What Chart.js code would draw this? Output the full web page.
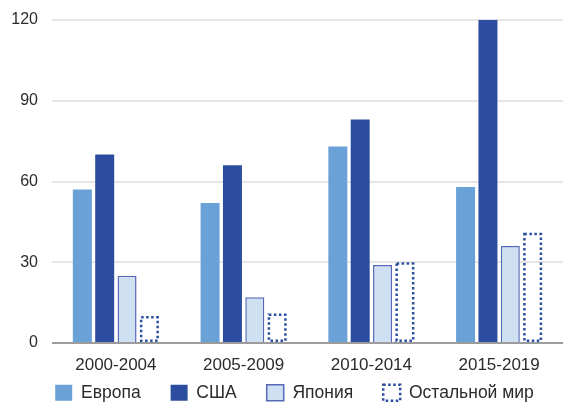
<!DOCTYPE html>
<html>
<head>
<meta charset="utf-8">
<script src="https://cdn.jsdelivr.net/npm/chart.js@4.4.1/dist/chart.umd.min.js"></script>
<style>
  html, body { margin: 0; padding: 0; background: #fff; }
  #wrap { width: 563px; height: 403px; position: relative; }
</style>
</head>
<body>
<div id="wrap"><canvas id="chart"></canvas></div>
<script>
// Periods on the horizontal axis
const periods = ['2000-2004', '2005-2009', '2010-2014', '2015-2019'];

// Values per region
const europe = [57, 52, 73, 58];
const usa = [70, 66, 83, 120];
const japan = [25, 17, 29, 36];
const restOfWorld = [10, 11, 30, 41];

// Series names
const seriesNames = ['Европа', 'США', 'Япония', 'Остальной мир'];

// Value axis ticks
const yTicks = [0, 30, 60, 90, 120];

const FONT = '"Liberation Sans", Arial, Helvetica, sans-serif';
const TEXT_COLOR = '#2b2b2b';
const DOT_COLOR = '#2c4ea0';
const DOT_WIDTH = 2.5;
const DOT_DASH = [2.5, 2.5];
const LEGEND_GAP = 30;
const LEGEND_LIFT = 21;
const LEGEND_SHIFT = 13;

// Dotted outline for the "Остальной мир" bars, drawn around the bar elements
const dottedBars = {
  id: 'dottedBars',
  afterDatasetsDraw(chart) {
    const meta = chart.getDatasetMeta(3);
    if (meta.hidden) return;
    const ctx = chart.ctx;
    ctx.save();
    ctx.strokeStyle = DOT_COLOR;
    ctx.lineWidth = DOT_WIDTH;
    ctx.setLineDash(DOT_DASH);
    meta.data.forEach(el => {
      const p = el.getProps(['x', 'y', 'base', 'width'], true);
      const h = DOT_WIDTH / 2;
      const left = p.x - p.width / 2 + h;
      const right = p.x + p.width / 2 - h;
      const top = Math.min(p.y, p.base) + h;
      const bottom = Math.max(p.y, p.base) - h;
      ctx.strokeRect(left, top, right - left, bottom - top);
    });
    ctx.restore();
  }
};

// Keeps wide gaps between legend entries while placing the row close under the axis labels
const legendPlacement = {
  id: 'legendPlacement',
  afterLayout(chart) {
    const lg = chart.legend;
    if (!lg) return;
    lg.top -= LEGEND_LIFT;
    lg.bottom = chart.height;
    lg.height = lg.bottom - lg.top;
    lg.left += LEGEND_SHIFT;
    lg.right += LEGEND_SHIFT;
  }
};

new Chart(document.getElementById('chart'), {
  type: 'bar',
  data: {
    labels: periods,
    datasets: [
      { label: seriesNames[0], data: europe, backgroundColor: '#6aa1d7', borderWidth: 0 },
      { label: seriesNames[1], data: usa, backgroundColor: '#2c4d9f', borderWidth: 0 },
      { label: seriesNames[2], data: japan, backgroundColor: '#cfe0f2', borderColor: '#5569b8', borderWidth: 1.5 },
      { label: seriesNames[3], data: restOfWorld, backgroundColor: 'rgba(255,255,255,0)', borderWidth: 0 }
    ]
  },
  options: {
    responsive: true,
    maintainAspectRatio: false,
    animation: false,
    layout: { padding: { top: 20, left: 0, right: 0, bottom: 0 } },
    datasets: {
      bar: { categoryPercentage: 0.70, barPercentage: 0.85 }
    },
    scales: {
      x: {
        afterFit(scale) { scale.height = 32; },
        grid: { display: false, drawTicks: false },
        border: { display: false },
        ticks: {
          padding: 12,
          color: TEXT_COLOR,
          font: { family: FONT, size: 17 }
        }
      },
      y: {
        min: 0,
        max: 120,
        afterFit(scale) {
          scale.width = 52;
          scale.paddingTop = 0;
          scale.paddingBottom = 0;
        },
        afterBuildTicks(scale) {
          scale.ticks = yTicks.map(v => ({ value: v }));
        },
        border: { display: false },
        grid: {
          drawTicks: false,
          lineWidth: 2,
          color: ctx => (ctx.tick && ctx.tick.value === 0) ? '#9c9c9c' : '#e6e6e6'
        },
        ticks: {
          padding: 14,
          color: TEXT_COLOR,
          font: { family: FONT, size: 16 }
        }
      }
    },
    plugins: {
      tooltip: { enabled: false },
      legend: {
        position: 'bottom',
        maxHeight: 28,
        labels: {
          boxWidth: 17,
          boxHeight: 16,
          padding: LEGEND_GAP,
          color: TEXT_COLOR,
          font: { family: FONT, size: 17.5 },
          generateLabels(chart) {
            const items = Chart.defaults.plugins.legend.labels.generateLabels(chart);
            items.forEach((it, i) => {
              if (i < 2) { it.lineWidth = 0; }
              if (i === 2) { it.lineWidth = 1.5; it.strokeStyle = '#5569b8'; }
              if (i === 3) {
                it.fillStyle = '#ffffff';
                it.strokeStyle = DOT_COLOR;
                it.lineWidth = DOT_WIDTH;
                it.lineDash = DOT_DASH;
              }
            });
            return items;
          }
        }
      }
    }
  },
  plugins: [dottedBars, legendPlacement]
});
</script>
</body>
</html>
